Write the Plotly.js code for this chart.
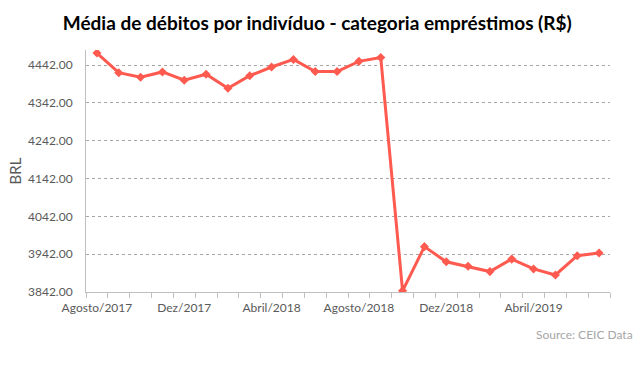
<!DOCTYPE html>
<html>
<head>
<meta charset="utf-8">
<script src="https://cdn.plot.ly/plotly-3.0.1.min.js"></script>
<style>html,body{margin:0;padding:0;background:#fff;}#chart{width:641px;height:387px;}</style>
</head>
<body>
<div id="chart"></div>
<script>
const months = ['Agosto/2017','Setembro/2017','Outubro/2017','Novembro/2017','Dez/2017',
  'Janeiro/2018','Fevereiro/2018','Março/2018','Abril/2018','Maio/2018','Junho/2018','Julho/2018',
  'Agosto/2018','Setembro/2018','Outubro/2018','Novembro/2018','Dez/2018',
  'Janeiro/2019','Fevereiro/2019','Março/2019','Abril/2019','Maio/2019','Junho/2019','Julho/2019'];
const values = [4474, 4422, 4410, 4424, 4402, 4418, 4381, 4414, 4437, 4457, 4425, 4425,
  4452, 4462, 3845, 3962, 3922, 3910, 3896, 3929, 3903, 3887, 3938, 3945];
const labelMonths = ['Agosto/2017','Dez/2017','Abril/2018','Agosto/2018','Dez/2018','Abril/2019'];
const yTicks = [3842, 3942, 4042, 4142, 4242, 4342, 4442];

const xIdx = months.map((m, i) => i);
const tickIdx = labelMonths.map(l => months.indexOf(l));

const font = "Lato, 'Open Sans', sans-serif";

Plotly.newPlot('chart', [{
  x: xIdx,
  y: values,
  type: 'scatter',
  mode: 'lines+markers',
  line: {color: '#ff5a4f', width: 3},
  marker: {symbol: 'diamond', size: 7, color: '#ff5a4f'},
  hoverinfo: 'skip'
}], {
  width: 641, height: 387,
  paper_bgcolor: '#ffffff', plot_bgcolor: '#ffffff',
  margin: {l: 86, r: 31, t: 50, b: 95},
  showlegend: false,
  title: {text: '<b>Média de débitos por indivíduo - categoria empréstimos (R$)</b>',
    font: {family: font, size: 19, color: '#000000'}, x: 0.495, xanchor: 'center', y: 0.94, yanchor: 'middle'},
  xaxis: {
    range: [-0.5, months.length - 0.5],
    tickvals: tickIdx, ticktext: labelMonths,
    ticks: '', ticklabelstandoff: 5, showgrid: false, zeroline: false,
    showline: true, linecolor: '#bfbfbf', linewidth: 1,
    tickfont: {family: font, size: 12, color: '#595959'},
    minor: {tick0: -0.5, dtick: 1, ticks: 'outside', ticklen: 5, tickcolor: '#bfbfbf', showgrid: false}
  },
  yaxis: {
    range: [3842, 4482],
    tickvals: yTicks, ticktext: yTicks.map(v => v.toFixed(2)),
    ticks: '', ticklabelstandoff: 10,
    showgrid: true, gridcolor: '#a6a6a6', griddash: 'dot', gridwidth: 1,
    zeroline: false, showline: true, linecolor: '#bfbfbf', linewidth: 1,
    tickfont: {family: font, size: 12, color: '#595959'},
    title: {text: 'BRL', font: {family: font, size: 15, color: '#595959'}, standoff: 2}
  },
  annotations: [{
    text: 'Source: CEIC Data', xref: 'paper', yref: 'paper',
    x: 1.048, y: -0.175, xanchor: 'right', yanchor: 'middle', showarrow: false,
    font: {family: font, size: 12, color: '#a6a6a6'}
  }]
}, {displayModeBar: false, staticPlot: true});
</script>
</body>
</html>
